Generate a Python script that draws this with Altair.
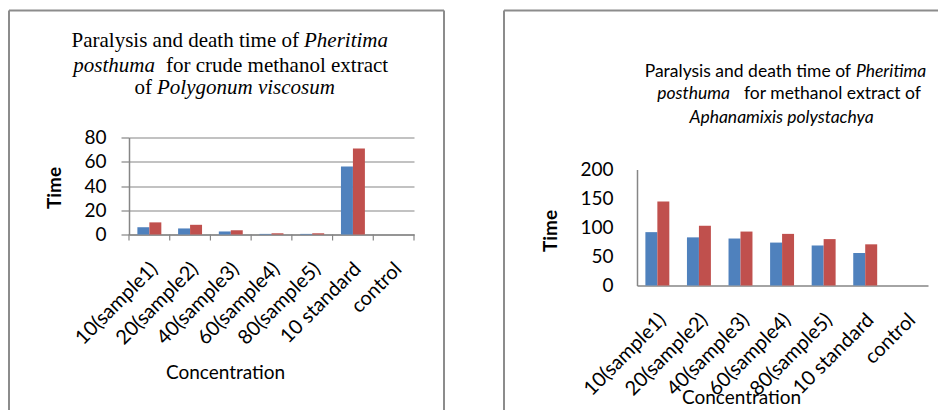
import altair as alt
import pandas as pd

# ---------------- data ----------------
categories = ["10(sample1)", "20(sample2)", "40(sample3)", "60(sample4)",
              "80(sample5)", "10 standard", "control"]
series = ["Paralysis time", "Death time"]
left_paralysis = [6, 5, 2.5, 0.5, 0.5, 56, 0]
left_death = [10, 8, 3.5, 1, 1, 71, 0]
right_paralysis = [92, 83, 81, 74, 69, 56, 0]
right_death = [145, 103, 93, 89, 80, 71, 0]
left_yticks = [0, 20, 40, 60, 80]
right_yticks = [0, 50, 100, 150, 200]
colors = ["#4F81BD", "#C0504D"]

SANS = "Lato"
SERIF = "Liberation Serif"
GRAY = "#868686"
BORDER = "#8c8c8c"


def long_df(p, d):
    rows = []
    for c, a, b in zip(categories, p, d):
        rows.append({"cat": c, "series": series[0], "value": a})
        rows.append({"cat": c, "series": series[1], "value": b})
    return pd.DataFrame(rows)


one = pd.DataFrame({"k": [0]})
cat_df = pd.DataFrame({"cat": categories})


def text_piece(txt, x, y, align, size, font, style="normal"):
    return alt.Chart(one).mark_text(
        align=align, baseline="alphabetic", font=font, fontSize=size,
        fontStyle=style, color="black"
    ).encode(x=alt.value(x), y=alt.value(y), text=alt.value(txt))


def vline(x, y1, y2):
    return alt.Chart(one).mark_rule(color=BORDER, strokeWidth=2).encode(
        x=alt.value(x), y=alt.value(y1), y2=alt.value(y2))


def hline(x1, x2, y):
    return alt.Chart(one).mark_rule(color=BORDER, strokeWidth=2).encode(
        x=alt.value(x1), x2=alt.value(x2), y=alt.value(y))


def panel(df, W, H, ymax, yrange, yvals, left_style, xaxis_title_xy,
          yaxis_title_xy):
    xaxis = alt.Axis(
        title="Concentration", labelAngle=315, labelAlign="right",
        labelBaseline="top", labelFont=SANS, labelFontSize=20,
        labelColor="black", labelPadding=24, labelOffset=-2, ticks=False,
        labelOverlap=False, labelLimit=0,
        domainColor=GRAY, domainWidth=1.5,
        titleFont=SANS, titleFontSize=19, titleFontWeight="normal",
        titleColor="black", titleX=xaxis_title_xy[0], titleY=xaxis_title_xy[1],
        titleBaseline="alphabetic", titleAlign="center", titleAnchor="start",
    )
    xscale = alt.Scale(paddingInner=0, paddingOuter=0)
    common_y = dict(
        values=yvals, domainColor=GRAY, domainWidth=1.5, labelFont=SANS,
        labelFontSize=19, labelColor="black",
        title="Time", titleFont=SANS, titleFontSize=19,
        titleFontWeight="bold", titleColor="black", titleAngle=270,
        titleX=yaxis_title_xy[0], titleY=yaxis_title_xy[1],
        titleBaseline="middle", titleAlign="center", titleAnchor="start",
    )
    if left_style:
        yaxis = alt.Axis(grid=True, gridColor=GRAY, gridWidth=1.2,
                         ticks=True, tickSize=8, tickColor=GRAY, tickWidth=1.2,
                         labelPadding=15, **common_y)
    else:
        yaxis = alt.Axis(grid=False, ticks=False, labelPadding=24, **common_y)
    bars = alt.Chart(df).mark_bar().encode(
        x=alt.X("cat:N", sort=categories, scale=xscale, axis=xaxis),
        xOffset=alt.XOffset("series:N", sort=series,
                            scale=alt.Scale(paddingInner=0, paddingOuter=0.7)),
        y=alt.Y("value:Q",
                scale=alt.Scale(domain=[0, ymax], nice=False, range=yrange),
                axis=yaxis),
        color=alt.Color("series:N", sort=series,
                        scale=alt.Scale(domain=series, range=colors),
                        legend=None),
    )
    layers = [bars]
    if left_style:
        ticks = alt.Chart(cat_df).mark_rule(color=GRAY, strokeWidth=1.2).encode(
            x=alt.X("cat:N", sort=categories, scale=xscale, axis=xaxis,
                    bandPosition=0),
            y=alt.value(H), y2=alt.value(H + 6))
        last_tick = alt.Chart(one).mark_rule(color=GRAY, strokeWidth=1.2).encode(
            x=alt.value(W), y=alt.value(H), y2=alt.value(H + 6))
        layers += [ticks, last_tick]
    return layers


# ---------------- left panel ----------------
LW, LH = 285, 97
left_layers = panel(long_df(left_paralysis, left_death), LW, LH, 80,
                    [LH, 0], left_yticks, True, (96, 144), (-75, 50))
left_layers += [
    vline(-120, -127, 293), hline(-120, 315, -127), vline(315, -127, 293),
    text_piece("Paralysis and death time of", 170, -90.8, "right", 21, SERIF),
    text_piece("Pheritima", 175, -90.8, "left", 21, SERIF, "italic"),
    text_piece("posthuma", 26, -65.8, "right", 21, SERIF, "italic"),
    text_piece("for crude methanol extract", 37, -65.8, "left", 21, SERIF),
    text_piece("of", 23, -43.5, "right", 21, SERIF),
    text_piece("Polygonum viscosum", 28, -43.5, "left", 21, SERIF, "italic"),
]
left = alt.layer(*left_layers).properties(width=LW, height=LH)

# ---------------- right panel ----------------
# plot origin shared with the left panel (row alignment); the value axis
# of this panel starts 32px lower
RW, RH = 291, 148
right_layers = panel(long_df(right_paralysis, right_death), RW, RH, 200,
                     [RH, 32], right_yticks, False, (104, 118), (-87, 93))
right_layers += [
    vline(-133, -127, 293), hline(-133, 301, -127),
    text_piece("Paralysis and death time of", 214, -60.8, "right", 17.5, SANS),
    text_piece("Pheritima", 219, -60.8, "left", 17.5, SANS, "italic"),
    text_piece("posthuma", 93, -38.2, "right", 17.5, SANS, "italic"),
    text_piece("for methanol extract of", 107, -38.2, "left", 17.5, SANS),
    text_piece("Aphanamixis polystachya", 144.5, -14.8, "center", 17.5, SANS,
               "italic"),
]
right = alt.layer(*right_layers).properties(width=RW, height=RH)

chart = alt.hconcat(left, right, spacing=58).properties(
    padding={"left": 0, "top": 1.5, "right": 0, "bottom": -22}
).configure_view(strokeWidth=0)

chart.save("out.html", embed_options={"renderer": "svg", "actions": False})
